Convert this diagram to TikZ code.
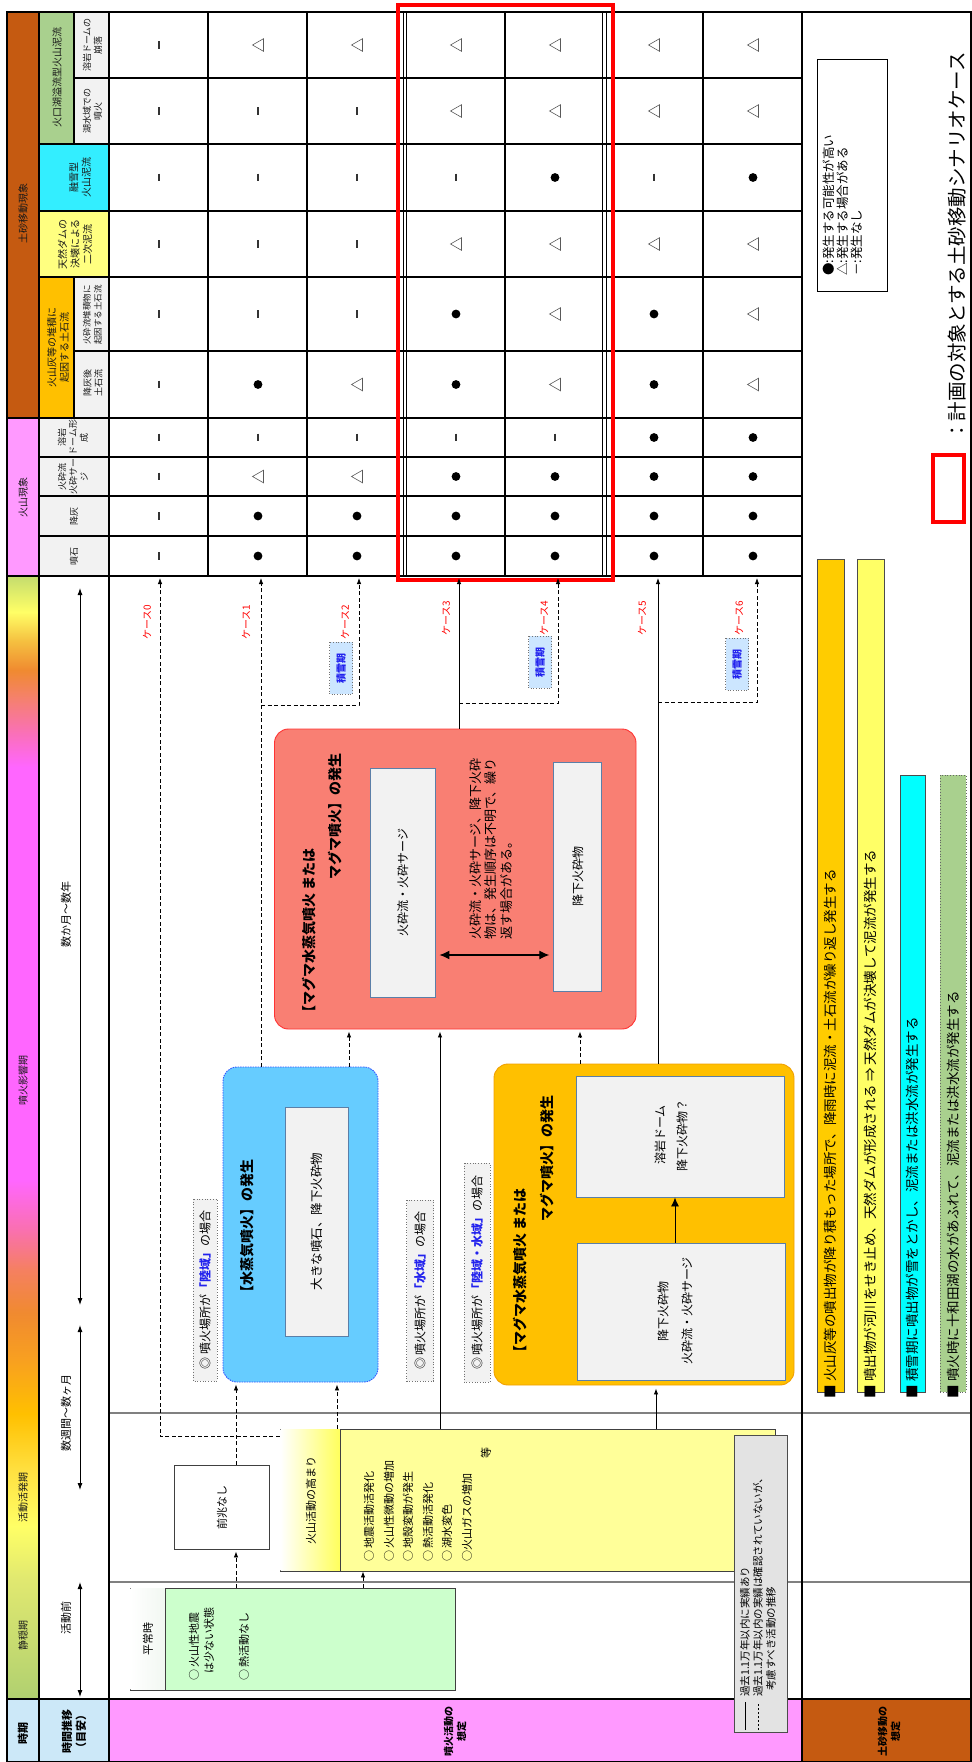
\documentclass[tikz,border=0pt]{standalone}
\usepackage{fontspec}
\setmainfont{Noto Sans CJK JP}
\usetikzlibrary{arrows.meta}
\definecolor{cBrn}{HTML}{C55A11}
\definecolor{cVio}{HTML}{FF99FF}
\definecolor{cGrn}{HTML}{A9D08E}
\definecolor{cCyn}{HTML}{33EEFF}
\definecolor{cYlw}{HTML}{FFFF80}
\definecolor{cOrg}{HTML}{FFC000}
\definecolor{cGry}{HTML}{F2F2F2}
\definecolor{cLbl}{HTML}{CCE8F8}
\definecolor{cBlue}{HTML}{66CCFF}
\definecolor{cBlueB}{HTML}{3355FF}
\definecolor{cRed}{HTML}{F97F73}
\definecolor{cRedB}{HTML}{FF3333}
\definecolor{cOrgB}{HTML}{F0A000}
\definecolor{cInB}{HTML}{5B7FA8}
\definecolor{cPale}{HTML}{FFFF99}
\definecolor{cMint}{HTML}{CCFFCC}
\definecolor{cLeg}{HTML}{E3E3E3}
\definecolor{cSnow}{HTML}{CCE6FF}
\definecolor{cTxtB}{HTML}{2222EE}
\definecolor{bOrg}{HTML}{FFCC00}
\definecolor{bYlw}{HTML}{FFFF66}
\definecolor{bCyn}{HTML}{00FFFF}
\definecolor{bGrn}{HTML}{A9D08E}
\definecolor{g01}{HTML}{B0D070}
\definecolor{g02}{HTML}{C8DC70}
\definecolor{g03}{HTML}{E0E870}
\definecolor{g04}{HTML}{FFFF66}
\definecolor{g05}{HTML}{FFE040}
\definecolor{g06}{HTML}{FFC000}
\definecolor{g07}{HTML}{F8A020}
\definecolor{g08}{HTML}{F08A30}
\definecolor{g09}{HTML}{F58060}
\definecolor{g10}{HTML}{FA70B0}
\definecolor{g11}{HTML}{FF66FF}
\definecolor{g12}{HTML}{FA70B8}
\definecolor{g13}{HTML}{F58070}
\definecolor{g14}{HTML}{F08A30}
\definecolor{g15}{HTML}{F5C040}
\definecolor{g16}{HTML}{FFFF66}
\definecolor{g17}{HTML}{C4DC6E}
\pgfdeclareverticalshading{periodshade}{100bp}{%
 color(0bp)=(g01); color(25bp)=(g01); color(27.6bp)=(g02); color(30.3bp)=(g03);
 color(32.7bp)=(g04); color(35.2bp)=(g05); color(37.7bp)=(g06); color(40.1bp)=(g07);
 color(42.2bp)=(g08); color(44.1bp)=(g09); color(45.9bp)=(g10); color(48.1bp)=(g11);
 color(66.5bp)=(g11); color(68bp)=(g12); color(69.5bp)=(g13); color(70.8bp)=(g14);
 color(72.1bp)=(g15); color(73.4bp)=(g16); color(75bp)=(g17); color(100bp)=(g17)}
\newcommand\symD[2]{\fill[black] (#1,#2) circle[radius=4.4pt];}
\newcommand\symT[2]{\draw[black!65,line width=0.6pt,line join=miter] ({#1-5.5},#2) -- ({#1+5.5},{#2-6.3}) -- ({#1+5.5},{#2+6.3}) -- cycle;}
\newcommand\symN[2]{\draw[black!80,line width=1.1pt] (#1,{#2-3.8}) -- (#1,{#2+3.8});}
\begin{document}
\begin{tikzpicture}[x=1pt,y=-1pt,
  tl/.style={line width=1.1pt,black},
  rt/.style={rotate=90,inner sep=0pt},
  hd/.style={rt,align=center,font=\fontsize{9}{11}\selectfont,text=black!90},
  gh/.style={rt,align=center,font=\fontsize{10}{12.5}\selectfont,text=black!90},
  bx/.style={draw=black!75,line width=0.9pt,inner sep=0pt},
  inbox/.style={draw=cInB,fill=cGry,line width=0.9pt,inner sep=0pt},
  dsh/.style={dash pattern=on 4pt off 2.5pt,line width=0.8pt},
  sol/.style={line width=0.9pt},
  arr/.style={-{Latex[length=6pt,width=4.5pt]}},
  notebox/.style={rt,draw=black!55,dotted,fill=cGry,line width=0.7pt,font=\fontsize{12}{14}\selectfont},
  snowlbl/.style={rt,draw=black!55,dotted,fill=cSnow,line width=0.7pt,minimum width=52pt,minimum height=23pt,font=\bfseries\fontsize{10}{12}\selectfont,text=cTxtB},
  caselbl/.style={rt,text=red,font=\fontsize{10}{12}\selectfont},
  bt/.style={rt,anchor=west,font=\bfseries\fontsize{14}{16}\selectfont},
  tx/.style={rt,font=\fontsize{11}{13}\selectfont},
  tw/.style={rt,anchor=west,font=\fontsize{11}{13}\selectfont},
  bartxt/.style={rt,anchor=west,font=\fontsize{13.5}{15}\selectfont},
]
\useasboundingbox (0,0) rectangle (972,1762);
\fill[white] (0,0) rectangle (972,1762);
% ---------- header fills ----------
\fill[cBrn] (7,12) rectangle (39,418);
\fill[cVio] (7,418) rectangle (39,576);
\fill[shading=periodshade] (7,576) rectangle (39,1699);
\fill[cGrn] (39,12) rectangle (74,144);
\fill[cGry] (74,12) rectangle (109,144);
\fill[cCyn] (39,144) rectangle (109,211);
\fill[cYlw] (39,211) rectangle (109,277);
\fill[cOrg] (39,277) rectangle (74,418);
\fill[cGry] (74,277) rectangle (109,418);
\fill[cGry] (39,418) rectangle (109,576);
\fill[cLbl] (7,1699) rectangle (109,1762);
\fill[cVio] (109,1699) rectangle (802,1762);
\fill[cBrn] (802,1699) rectangle (971,1762);
% ---------- period lines ----------
\draw[black!50,line width=1.3pt] (109,1413) -- (971,1413);
\draw[black!50,line width=1.3pt] (109,1582) -- (971,1582);
% ---------- table lines ----------
\draw[tl] (7,12) rectangle (971,1762);
\foreach \yy in {144,211,277,457,496,536} \draw[tl] (39,\yy) -- (802,\yy);
\foreach \yy in {78,351} \draw[tl] (74,\yy) -- (802,\yy);
\draw[tl] (7,418) -- (802,418);
\draw[tl] (7,576) -- (802,576);
\draw[tl] (7,1699) -- (971,1699);
\foreach \xx in {39,109,802} \draw[tl] (\xx,12) -- (\xx,1762);
\draw[tl] (74,12) -- (74,144);
\draw[tl] (74,277) -- (74,418);
\foreach \xx in {208,307,505,703} \draw[tl] (\xx,12) -- (\xx,576);
\foreach \xx in {403,406.5,602.5,606} \draw[black,line width=0.8pt] (\xx,12) -- (\xx,576);
% ---------- header texts ----------
\node[gh] (hT1) at (23,213) {土砂移動現象};
\node[gh] (hT2) at (23,497) {火山現象};
\node[gh] (hG1) at (57,77) {火口湖溢流型火山泥流};
\node[hd] (hS1) at (92.5,45) {溶岩ドームの\\崩落};
\node[hd] (hS2) at (92.5,111) {湖水域での\\噴火};
\node[gh] (hG2) at (80,177.5) {融雪型\\火山泥流};
\node[gh] (hG3) at (75,244) {天然ダムの\\決壊による\\二次泥流};
\node[gh] (hG4) at (58,347) {火山灰等の堆積に\\起因する土石流};
\node[hd,font=\fontsize{8.5}{11}\selectfont] (hS3) at (92.5,315) {火砕流堆積物に\\起因する土石流};
\node[hd] (hS4) at (93,383) {降灰後\\土石流};
\node[hd] (hS5) at (73,437.5) {溶岩\\ドーム形\\成};
\node[hd] (hS6) at (73,476.5) {火砕流\\火砕サー\\ジ};
\node[hd] (hS7) at (74,516) {降灰};
\node[hd] (hS8) at (74,556) {噴石};
% ---------- symbols ----------
\foreach \cx/\syms in {159/{N,N,N,N,N,N,N,N,N,N},258/{T,N,N,N,N,D,N,T,D,D},357/{T,N,N,N,N,T,N,T,D,D},456/{T,T,N,T,D,D,N,D,D,D},555/{T,T,D,T,T,T,N,D,D,D},654/{T,T,N,T,D,D,D,D,D,D},753/{T,T,D,T,T,T,D,D,D,D}}{
  \foreach \s [count=\i] in \syms {
    \pgfmathsetmacro\yy{{45,111,177.5,244,314,384.5,437.5,476.5,516,556}[\i-1]}
    \csname sym\s\endcsname{\cx}{\yy}
  }
}
\draw[red,line width=4pt] (398,5) rectangle (613,580);
% ---------- left strips ----------
\node[gh] (pA) at (23,1080) {噴火影響期};
\node[gh] (pB) at (23,1497) {活動活発期};
\node[gh] (pC) at (23,1635) {静穏期};
\coordinate (ta1) at (80,588); \coordinate (ta2) at (80,1305);
\coordinate (tb1) at (80,1325); \coordinate (tb2) at (80,1490);
\coordinate (tc1) at (80,1582); \coordinate (tc2) at (80,1697);
\draw[{Latex[length=7pt,width=5pt]}-{Latex[length=7pt,width=5pt]},line width=0.9pt] (ta1) -- (ta2);
\draw[{Latex[length=7pt,width=5pt]}-{Latex[length=7pt,width=5pt]},line width=0.9pt] (tb1) -- (tb2);
\draw[{Latex[length=7pt,width=5pt]}-{Latex[length=7pt,width=5pt]},line width=0.9pt] (tc1) -- (tc2);
\node[tx] (tA) at (66,914) {数か月〜数年};
\node[tx] (tB) at (66,1413) {数週間〜数ヶ月};
\node[tx] (tC) at (66,1618) {活動前};
\node[rt,font=\bfseries\fontsize{11}{13}\selectfont] (lb1) at (23,1733) {時期};
\node[rt,align=center,font=\bfseries\fontsize{11}{14}\selectfont] (lb2) at (74,1731) {時間推移\\（目安）};
\node[rt,align=center,font=\bfseries\fontsize{10}{13}\selectfont] (lb3) at (455,1731) {噴火活動の\\想定};
\node[rt,align=center,font=\bfseries\fontsize{10}{13}\selectfont] (lb4) at (889,1731) {土砂移動の\\想定};
% ---------- body boxes ----------
\node[bx,fill=white,minimum width=95pt,minimum height=84pt] (zencho) at (222,1507) {};
\node[tx] (zenchoT) at (zencho.center) {前兆なし};
\node[bx,fill=cMint,minimum width=325pt,minimum height=102pt] (heijo) at (292.5,1639) {};
\fill[left color=white,right color=cMint!80!black!15] (130.5,1588.5) rectangle (165,1689.5);
\draw[black!75,line width=0.9pt] (165,1588) -- (165,1690);
\node[tx] (heijoT) at (148,1639) {平常時};
\node[tw] (h1) at (194,1681) {○ 火山性地震};
\node[tw] (h2) at (209,1674) {は少ない状態};
\node[tw] (h3) at (244,1681) {○ 熱活動なし};
\node[bx,fill=cPale,minimum width=495pt,minimum height=142pt] (takamari) at (527.5,1500) {};
\fill[left color=white,right color=cPale!60!yellow] (280.5,1429.5) rectangle (340,1570.5);
\draw[black!75,line width=0.9pt] (340,1429) -- (340,1571);
\node[tx] (takT) at (311,1500) {火山活動の高まり};
\node[tw] (m1) at (369,1562) {○ 地震活動活発化};
\node[tw] (m2) at (389,1562) {○ 火山性微動の増加};
\node[tw] (m3) at (408,1562) {○ 地殻変動が発生};
\node[tw] (m4) at (428,1562) {○ 熱活動活発化};
\node[tw] (m5) at (447,1562) {○ 湖水変色};
\node[tw] (m6) at (467,1562) {○火山ガスの増加};
\node[tx] (m7) at (486,1453) {等};
% legend of line styles
\node[draw=black!70,fill=cLeg,line width=0.9pt,minimum width=53.5pt,minimum height=297pt,inner sep=0pt] (lgd) at (760.75,1583.5) {};
\coordinate (lgA1) at (745,1730); \coordinate (lgA2) at (745,1702);
\coordinate (lgB1) at (758,1730); \coordinate (lgB2) at (758,1702);
\draw[black,line width=0.8pt] (lgA1) -- (lgA2);
\draw[black,dash pattern=on 2.5pt off 1.5pt,line width=0.8pt] (lgB1) -- (lgB2);
\node[rt,anchor=west,font=\fontsize{10.5}{12}\selectfont] (lg1) at (745,1697) {過去1.1万年以内に実績あり};
\node[rt,anchor=west,font=\fontsize{10.5}{12}\selectfont] (lg2) at (758,1697) {過去1.1万年以内の実績は確認されていないが、};
\node[rt,anchor=west,font=\fontsize{10.5}{12}\selectfont] (lg3) at (771,1691) {考慮すべき活動の推移};
% blue box
\node[draw=cBlueB,dash pattern=on 1.5pt off 1pt,fill=cBlue,line width=0.9pt,rounded corners=14pt,minimum width=155pt,minimum height=315pt,inner sep=0pt] (blue) at (300.5,1224.5) {};
\node[inbox,minimum width=63pt,minimum height=229pt] (bluein) at (316.5,1221.5) {};
\node[rt,font=\fontsize{12.5}{15}\selectfont] (blueinT) at (bluein.center) {大きな噴石、降下火砕物};
\node[bt] (blueT) at (247,1300) {【水蒸気噴火】の発生};
% red box
\node[draw=cRedB,fill=cRed,line width=0.9pt,rounded corners=14pt,minimum width=361.5pt,minimum height=300pt,inner sep=0pt] (red) at (455.25,879) {};
\node[bt] (redT1) at (309,1020) {【マグマ水蒸気噴火 または};
\node[bt] (redT2) at (335,880) {マグマ噴火】の発生};
\node[inbox,minimum width=64.4pt,minimum height=229pt] (redA) at (402.8,882.5) {};
\node[rt,font=\fontsize{12}{14}\selectfont] (redAT) at (redA.center) {火砕流・火砕サージ};
\node[inbox,minimum width=48pt,minimum height=229pt] (redB) at (577.8,876.5) {};
\node[rt,font=\fontsize{12}{14}\selectfont] (redBT) at (redB.center) {降下火砕物};
\coordinate (y955) at (0,955);
\draw[{Latex[length=10pt,width=9pt]}-{Latex[length=10pt,width=9pt]},line width=1.2pt] ([xshift=4pt]redA.east |- y955) -- ([xshift=-4pt]redB.west |- y955);
\node[rt,anchor=north west,align=left,font=\fontsize{13}{15.5}\selectfont] (redTxt) at (469,940) {火砕流・火砕サージ、降下火砕\\物は、発生順序は不明で、繰り\\返す場合がある。};
% orange box
\node[draw=cOrgB,fill=cOrg,line width=0.9pt,rounded corners=14pt,minimum width=300pt,minimum height=321pt,inner sep=0pt] (orange) at (644,1224.5) {};
\node[bt] (orgT1) at (520,1360) {【マグマ水蒸気噴火 または};
\node[bt] (orgT2) at (547,1222) {マグマ噴火】の発生};
\node[inbox,minimum width=208pt,minimum height=121pt] (orgU) at (680,1136.5) {};
\node[rt,align=center,font=\fontsize{12}{22}\selectfont] (orgUT) at (671,1135) {溶岩ドーム\\降下火砕物？};
\node[inbox,minimum width=208pt,minimum height=137pt] (orgL) at (681,1311.5) {};
\node[rt,align=center,font=\fontsize{12}{24}\selectfont] (orgLT) at (675,1311) {降下火砕物\\火砕流・火砕サージ};
\coordinate (x675) at (675,0);
\draw[-{Latex[length=9pt,width=8pt]},line width=0.9pt] (orgL.north -| x675) -- (orgU.south -| x675);
% notes
\node[notebox,minimum width=182pt,minimum height=24pt] (note1) at (205,1290) {◎ 噴火場所が{\bfseries\color{cTxtB}「陸域」}の場合};
\node[notebox,minimum width=181pt,minimum height=27pt] (note2) at (420,1290.5) {◎ 噴火場所が{\bfseries\color{cTxtB}「水域」}の場合};
\node[notebox,minimum width=219pt,minimum height=26pt] (note3) at (477,1272.5) {◎ 噴火場所が{\bfseries\color{cTxtB}「陸域・水域」}の場合};
% ---------- connectors ----------
\coordinate (k0) at (160,578); \coordinate (k1) at (261,578); \coordinate (k2) at (359,578);
\coordinate (k3) at (459,578); \coordinate (k4) at (558,578); \coordinate (k5) at (658,578);
\coordinate (k6) at (757,578);
\coordinate (j1) at (261,705); \coordinate (j3) at (459,703); \coordinate (j5) at (658,702);
\draw[dsh,arr] ([yshift=-8pt]takamari.north west) -| (k0);
\draw[dsh,arr] (blue.north -| k1) -- (k1);
\draw[dsh,arr] (j1) -| (k2);
\draw[sol,arr] (red.north -| k3) -- (k3);
\draw[dsh,arr] (j3) -| (k4);
\draw[sol,arr] (orange.north -| k5) -- (k5);
\draw[dsh,arr] (j5) -| (k6);
\coordinate (x349) at (349,0); \coordinate (x580) at (580,0); \coordinate (x440) at (440,0);
\coordinate (x656) at (656,0); \coordinate (x337) at (337,0); \coordinate (x236) at (236,0);
\coordinate (x363) at (363,0);
\draw[dsh,arr,shorten >=2pt] (blue.north -| x349) -- (red.south -| x349);
\draw[dsh,arr,shorten >=2pt] (orange.north -| x580) -- (red.south -| x580);
\draw[sol,arr,shorten >=2pt] (takamari.north -| x440) -- (red.south -| x440);
\draw[sol,arr,shorten >=3pt] (takamari.north -| x656) -- (orange.south -| x656);
\draw[dsh,arr,shorten >=2pt] (takamari.north -| x337) -- (blue.south -| x337);
\draw[dsh,arr,shorten >=2pt] (zencho.north -| x236) -- (blue.south -| x236);
\draw[dsh,arr,shorten >=2pt] (heijo.north -| x236) -- (zencho.south -| x236);
\draw[dsh,arr] (heijo.north -| x363) -- (takamari.south -| x363);
% case labels
\node[caselbl] (cl0) at (147,622) {ケース0};
\node[caselbl] (cl1) at (246,622) {ケース1};
\node[caselbl] (cl2) at (345,622) {ケース2};
\node[caselbl] (cl3) at (446,618) {ケース3};
\node[caselbl] (cl4) at (544,618) {ケース4};
\node[caselbl] (cl5) at (642,618) {ケース5};
\node[caselbl] (cl6) at (739,618) {ケース6};
\node[snowlbl] (sn2) at (341,668) {積雪期};
\node[snowlbl] (sn4) at (540,662) {積雪期};
\node[snowlbl] (sn6) at (737,664) {積雪期};
% ---------- right section ----------
\node[draw=black,fill=white,line width=0.9pt,minimum width=70pt,minimum height=232pt,inner sep=0pt] (symleg) at (852,175) {};
\node[rt,anchor=west,font=\fontsize{12.5}{14}\selectfont] (sl1) at (829,276) {●:発生する可能性が高い};
\node[rt,anchor=west,font=\fontsize{12.5}{14}\selectfont] (sl2) at (843,276) {△:発生する場合がある};
\node[rt,anchor=west,font=\fontsize{12.5}{14}\selectfont] (sl3) at (857,276) {－:発生なし};
\node[draw=red,line width=3.5pt,minimum width=31pt,minimum height=67pt,inner sep=0pt] (redsq) at (948.5,488.5) {};
\node[rt,anchor=west,font=\fontsize{19.5}{22}\selectfont] (plan) at (957,441) {：計画の対象とする土砂移動シナリオケース};
\node[draw=black!70,fill=bOrg,line width=0.8pt,minimum width=27pt,minimum height=833pt,inner sep=0pt] (bar1) at (830.5,975.5) {};
\node[draw=black!70,fill=bYlw,line width=0.8pt,minimum width=27pt,minimum height=833pt,inner sep=0pt] (bar2) at (870.5,975.5) {};
\node[draw=black!70,fill=bCyn,line width=0.8pt,minimum width=25pt,minimum height=617pt,inner sep=0pt] (bar3) at (912.5,1083.5) {};
\node[draw=black!60,dotted,fill=bGrn,line width=0.8pt,minimum width=26pt,minimum height=617pt,inner sep=0pt] (bar4) at (953,1083.5) {};
\node[bartxt] (bt1) at ([yshift=-6pt]bar1.south) {■ 火山灰等の噴出物が降り積もった場所で、降雨時に泥流・土石流が繰り返し発生する};
\node[bartxt] (bt2) at ([yshift=-6pt]bar2.south) {■ 噴出物が河川をせき止め、天然ダムが形成される ⇒ 天然ダムが決壊して泥流が発生する};
\node[bartxt] (bt3) at ([yshift=-6pt]bar3.south) {■ 積雪期に噴出物が雪をとかし、泥流または洪水流が発生する};
\node[bartxt] (bt4) at ([yshift=-6pt]bar4.south) {■ 噴火時に十和田湖の水があふれて、泥流または洪水流が発生する};
\end{tikzpicture}
\end{document}
